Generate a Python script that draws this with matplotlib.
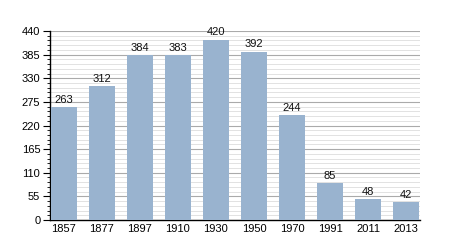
import numpy as np
import matplotlib.pyplot as plt
from matplotlib.ticker import MultipleLocator

plt.rcParams['font.family'] = ['Liberation Sans', 'DejaVu Sans']

years = ['1857', '1877', '1897', '1910', '1930', '1950', '1970', '1991', '2011', '2013']
population = [263, 312, 384, 383, 420, 392, 244, 85, 48, 42]

fig = plt.figure(figsize=(4.5, 2.5), dpi=100)
ax = fig.add_axes([50 / 450, 30 / 250, 370 / 450, 189 / 250])

x = np.arange(len(years))
bars = ax.bar(x, population, width=0.68, color='#99b3cf', zorder=3)

for xi, v in zip(x, population):
    ax.text(xi, v + 5, str(v), ha='center', va='bottom', fontsize=8, color='#111111')

ax.set_xlim(-0.36, 9.36)
ax.set_ylim(0, 440)
ax.yaxis.set_major_locator(MultipleLocator(55))
ax.yaxis.set_minor_locator(MultipleLocator(11))
ax.grid(axis='y', which='major', color='#aaaaaa', linewidth=0.8, zorder=0)
ax.grid(axis='y', which='minor', color='#dddddd', linewidth=0.6, zorder=0)

ax.set_xticks(x)
ax.set_xticklabels(years)
ax.tick_params(axis='x', length=0, labelsize=8, pad=3)
ax.tick_params(axis='y', which='major', length=5, width=0.8, labelsize=8, pad=2)
ax.tick_params(axis='y', which='minor', length=2.5, width=0.6)

for s in ['top', 'right']:
    ax.spines[s].set_visible(False)
ax.spines['left'].set_linewidth(1.0)
ax.spines['bottom'].set_linewidth(1.0)

plt.savefig('out.png', dpi=100)
